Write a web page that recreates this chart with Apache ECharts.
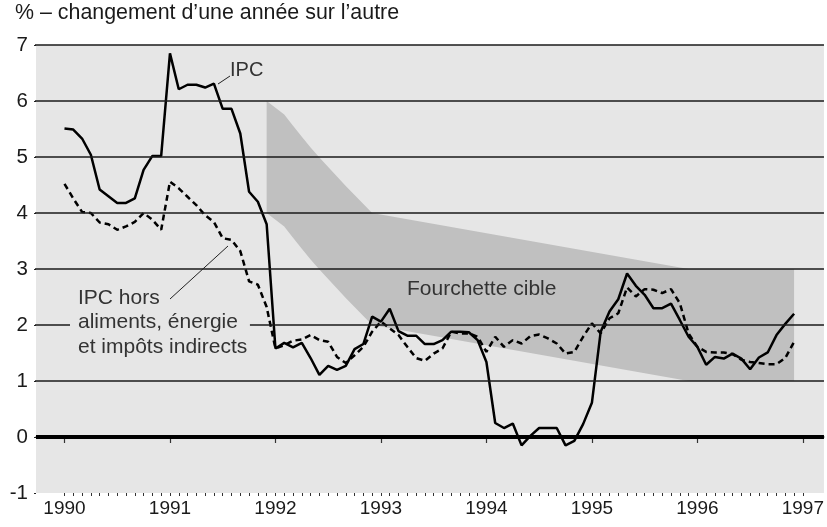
<!DOCTYPE html>
<html>
<head>
<meta charset="utf-8">
<title>IPC et fourchette cible</title>
<style>
  html, body { margin: 0; padding: 0; background: #fff; }
  #chart { width: 827px; height: 527px; }
</style>
</head>
<body>
<div id="chart"></div>
<script src="https://cdn.jsdelivr.net/npm/echarts@6/dist/echarts.min.js"></script>
<script>
// series run monthly, January 1990 to December 1996
var startYear = 1990;
var yearLabels = [1990, 1991, 1992, 1993, 1994, 1995, 1996, 1997];
var yGridValues = [1, 2, 3, 4, 5, 6, 7];

// IPC, % change over 12 months
var ipc = [
  5.51, 5.49, 5.33, 5.04, 4.42, 4.30, 4.18, 4.18, 4.26, 4.77, 5.02, 5.02,
  6.85, 6.21, 6.29, 6.29, 6.24, 6.31, 5.86, 5.86, 5.42, 4.38, 4.20, 3.80,
  1.58, 1.68, 1.60, 1.68, 1.41, 1.11, 1.27, 1.20, 1.27, 1.57, 1.66, 2.15,
  2.06, 2.29, 1.89, 1.81, 1.81, 1.66, 1.66, 1.73, 1.88, 1.88, 1.87, 1.73,
  1.34, 0.25, 0.16, 0.24, -0.15, 0.02, 0.16, 0.16, 0.16, -0.15, -0.07, 0.23,
  0.61, 1.88, 2.24, 2.46, 2.92, 2.70, 2.54, 2.30, 2.30, 2.38, 2.09, 1.79,
  1.61, 1.29, 1.43, 1.40, 1.49, 1.40, 1.21, 1.42, 1.51, 1.82, 2.02, 2.20
];

// IPC hors aliments, energie et impots indirects
var ipcCore = [
  4.52, 4.26, 4.02, 4.00, 3.83, 3.80, 3.70, 3.76, 3.84, 4.00, 3.88, 3.70,
  4.56, 4.44, 4.29, 4.14, 3.96, 3.84, 3.55, 3.52, 3.32, 2.78, 2.72, 2.32,
  1.58, 1.64, 1.72, 1.74, 1.82, 1.73, 1.70, 1.43, 1.32, 1.46, 1.61, 1.88,
  2.06, 1.94, 1.82, 1.61, 1.41, 1.36, 1.49, 1.58, 1.88, 1.85, 1.85, 1.79,
  1.52, 1.79, 1.61, 1.73, 1.67, 1.80, 1.83, 1.76, 1.67, 1.49, 1.52, 1.79,
  2.03, 1.85, 2.12, 2.21, 2.67, 2.51, 2.64, 2.63, 2.57, 2.64, 2.39, 1.85,
  1.61, 1.52, 1.51, 1.51, 1.48, 1.38, 1.34, 1.32, 1.30, 1.30, 1.41, 1.70
];

// fourchette cible : bornes aux mois indiqués
var bandMonths = ['1991-12', '1992-01', '1992-02', '1992-03', '1992-04', '1992-05', '1992-06',
  '1992-07', '1992-08', '1992-09', '1992-10', '1992-11', '1992-12', '1995-12', '1996-12'];
var bandLow = [4.00, 3.88, 3.76, 3.56, 3.36, 3.17, 2.99, 2.82, 2.65, 2.48, 2.32, 2.16, 2.00, 1.00, 1.00];
var bandHigh = [6.00, 5.88, 5.76, 5.56, 5.36, 5.17, 4.99, 4.82, 4.65, 4.48, 4.32, 4.16, 4.00, 3.00, 3.00];

function monthToYear(s) {
  var p = s.split('-');
  return +p[0] + (+p[1] - 1) / 12;
}
function seriesPoints(vals) {
  return vals.map(function (v, i) { return [startYear + i / 12, v]; });
}

var monthTicks = [];
for (var m = 0; m <= (yearLabels[yearLabels.length - 1] - startYear) * 12; m++) {
  monthTicks.push(startYear + m / 12);
}

var bandX = bandMonths.map(monthToYear);
var bandData = bandX.map(function (x, i) { return [x, bandLow[i], bandHigh[i]]; });
var xMin = 1989.73, xMax = 1997.2;
var font = 'Liberation Sans, Arial, sans-serif';

// polygon of the target band, drawn once through the axes
function renderBand(params, api) {
  if (params.dataIndex !== 0) return;
  var upper = bandData.map(function (d) { return api.coord([d[0], d[2]]); });
  var lower = bandData.map(function (d) { return api.coord([d[0], d[1]]); }).reverse();
  return {
    type: 'polygon',
    shape: { points: upper.concat(lower) },
    style: { fill: '#c0c0c0' }
  };
}

var chart = echarts.init(document.getElementById('chart'));
chart.setOption({
  animation: false,
  backgroundColor: '#fff',
  grid: {
    left: 36, right: 2, top: 45, bottom: 34,
    show: true, backgroundColor: '#e6e6e6', borderWidth: 0
  },
  xAxis: [{
    type: 'value', min: xMin, max: xMax,
    axisLine: { show: true, lineStyle: { color: '#666', width: 1.5 } },
    axisTick: { show: true, customValues: yearLabels, length: 6, lineStyle: { color: '#333', width: 1.2 } },
    axisLabel: { customValues: yearLabels, fontSize: 19, color: '#1a1a1a', fontFamily: font, margin: 6,
      formatter: function (v) { return String(Math.round(v)); } },
    splitLine: { show: false }
  }, {
    type: 'value', min: xMin, max: xMax, position: 'bottom',
    axisLine: { show: false },
    axisTick: { show: true, customValues: monthTicks, length: 3, lineStyle: { color: '#333', width: 1 } },
    axisLabel: { show: false },
    splitLine: { show: false }
  }],
  yAxis: {
    type: 'value', min: -1, max: 7, interval: 1,
    axisLine: { show: false },
    axisTick: { show: true, length: 2, lineStyle: { color: '#222' } },
    axisLabel: { fontSize: 20.5, color: '#1a1a1a', fontFamily: font, margin: 8 },
    splitLine: { show: false }
  },
  series: [{
    name: 'Fourchette cible', type: 'custom', z: 2, silent: true,
    renderItem: renderBand,
    encode: { x: 0, y: [1, 2] },
    data: bandData
  }, {
    name: 'IPC', type: 'line', z: 5, symbol: 'none',
    lineStyle: { color: '#000', width: 2.5 },
    data: seriesPoints(ipc),
    markLine: {
      silent: true, symbol: 'none', label: { show: false },
      lineStyle: { color: '#000', width: 4, type: 'solid' },
      data: [{ yAxis: 0 }]
    }
  }, {
    name: 'IPC hors aliments, énergie et impôts indirects', type: 'line', z: 5, symbol: 'none',
    lineStyle: { color: '#000', width: 2.5, type: [6, 4] },
    data: seriesPoints(ipcCore)
  }]
});

// horizontal grid lines placed with the y scale, drawn above the band
var gx0 = chart.convertToPixel({ xAxisIndex: 0 }, xMin) - 1;
var gx1 = chart.convertToPixel({ xAxisIndex: 0 }, xMax);
var gridGraphics = yGridValues.map(function (v) {
  var y = Math.round(chart.convertToPixel({ yAxisIndex: 0 }, v));
  return { type: 'line', z: 8, silent: true,
    shape: { x1: gx0, y1: y, x2: gx1, y2: y },
    style: { stroke: '#1a1a1a', lineWidth: 1.5 } };
});

var textGraphics = [
  { type: 'text', left: 15, top: 3, z: 10,
    style: { text: '% – changement d’une année sur l’autre', fontSize: 21.4, fill: '#1a1a1a', fontFamily: font } },
  { type: 'text', left: 230, top: 60, z: 10,
    style: { text: 'IPC', fontSize: 20, fill: '#333', fontFamily: font } },
  { type: 'line', z: 10, shape: { x1: 218, y1: 84, x2: 230, y2: 76 }, style: { stroke: '#222', lineWidth: 1 } },
  { type: 'text', left: 407, top: 279, z: 10,
    style: { text: 'Fourchette cible', fontSize: 21, fill: '#333', fontFamily: font } },
  { type: 'line', z: 10, shape: { x1: 170, y1: 299, x2: 228, y2: 246 }, style: { stroke: '#222', lineWidth: 1 } },
  { type: 'text', left: 78, top: 288, z: 10,
    style: { text: 'IPC hors', fontSize: 21, fill: '#333', fontFamily: font } },
  { type: 'text', left: 70, top: 311, z: 10,
    style: { text: 'aliments, énergie', fontSize: 21, fill: '#333', fontFamily: font,
      backgroundColor: '#e6e6e6', padding: [1, 12, 1, 8] } },
  { type: 'text', left: 78, top: 337, z: 10,
    style: { text: 'et impôts indirects', fontSize: 21, fill: '#333', fontFamily: font } }
];

chart.setOption({ graphic: gridGraphics.concat(textGraphics) });
window.addEventListener('resize', function () { chart.resize(); });
</script>
</body>
</html>
